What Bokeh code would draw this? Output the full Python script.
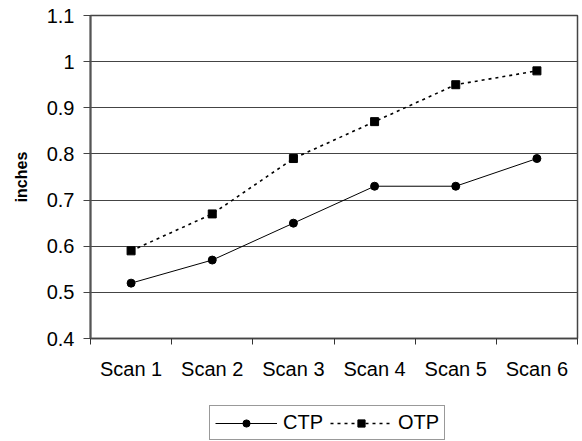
from bokeh.plotting import figure
from bokeh.layouts import column
from bokeh.models import (Range1d, FixedTicker, CustomJSTickFormatter, Legend, LegendItem)
from bokeh.embed import file_html
from bokeh.resources import INLINE

categories = ["Scan 1", "Scan 2", "Scan 3", "Scan 4", "Scan 5", "Scan 6"]
ctp = [0.52, 0.57, 0.65, 0.73, 0.73, 0.79]
otp = [0.59, 0.67, 0.79, 0.87, 0.95, 0.98]
y_ticks = [0.4, 0.5, 0.6, 0.7, 0.8, 0.9, 1.0, 1.1]

xs = [i + 0.5 for i in range(len(categories))]

FONT = "Liberation Sans"

p = figure(width=582, height=400, output_backend="svg", toolbar_location=None,
           x_range=Range1d(0, len(categories)), y_range=Range1d(0.4, 1.1),
           min_border_left=90, min_border_right=5, min_border_top=15,
           min_border_bottom=62)

p.background_fill_color = "white"
p.border_fill_color = "white"
p.outline_line_color = "#444444"
p.outline_line_width = 1.5

# x axis
p.xaxis.ticker = FixedTicker(ticks=xs, minor_ticks=list(range(len(categories) + 1)))
p.xaxis.major_label_overrides = {x: c for x, c in zip(xs, categories)}
p.xaxis.major_tick_out = 0
p.xaxis.major_tick_in = 0
p.xaxis.minor_tick_out = 6
p.xaxis.minor_tick_in = 0
p.xaxis.minor_tick_line_color = "#333333"
p.xaxis.axis_line_color = "#444444"
p.xaxis.axis_line_width = 1.5
p.xaxis.major_label_standoff = 13
p.xaxis.major_label_text_font = FONT
p.xaxis.major_label_text_font_size = "20px"
p.xaxis.major_label_text_color = "black"
p.xgrid.visible = False

# y axis
p.yaxis.ticker = FixedTicker(ticks=y_ticks, minor_ticks=[])
p.yaxis.formatter = CustomJSTickFormatter(code="return tick.toFixed(1).replace(/\\.0$/, '');")
p.yaxis.major_tick_out = 7
p.yaxis.major_tick_in = 0
p.yaxis.major_tick_line_color = "#444444"
p.yaxis.axis_line_color = "#555555"
p.yaxis.axis_line_width = 2
p.yaxis.major_label_standoff = 9
p.yaxis.major_label_text_font = FONT
p.yaxis.major_label_text_font_size = "20px"
p.yaxis.major_label_text_color = "black"
p.yaxis.axis_label = "inches"
p.yaxis.axis_label_text_font = FONT
p.yaxis.axis_label_text_font_style = "bold"
p.yaxis.axis_label_text_font_size = "16px"
p.yaxis.axis_label_text_color = "black"
p.yaxis.axis_label_standoff = 14
p.ygrid.grid_line_color = "#444444"
p.ygrid.grid_line_width = 1.2
p.ygrid.grid_line_alpha = 1.0

# series
ctp_style = dict(line_color="black", line_width=1)
otp_style = dict(line_color="black", line_width=1.6, line_dash="3 4")
p.line(xs, ctp, **ctp_style)
p.scatter(xs, ctp, marker="circle", size=8, fill_color="black", line_color="black")
p.line(xs, otp, **otp_style)
p.scatter(xs, otp, marker="square", size=8, fill_color="black", line_color="black")

# legend strip below the chart (hidden copies of the series supply the keys)
q = figure(width=582, height=41, output_backend="svg", toolbar_location=None,
           x_range=Range1d(0, 1), y_range=Range1d(0, 1),
           x_axis_location=None, y_axis_location=None,
           min_border_left=0, min_border_right=0, min_border_top=0, min_border_bottom=0)
q.grid.visible = False
q.outline_line_color = None
q.background_fill_color = "white"
q.border_fill_color = "white"
k1 = q.line(xs, ctp, visible=False, **ctp_style)
k1m = q.scatter(xs, ctp, marker="circle", size=8, fill_color="black", line_color="black", visible=False)
k2 = q.line(xs, otp, visible=False, **otp_style)
k2m = q.scatter(xs, otp, marker="square", size=8, fill_color="black", line_color="black", visible=False)

legend = Legend(items=[LegendItem(label="CTP", renderers=[k1, k1m]),
                       LegendItem(label="OTP", renderers=[k2, k2m])],
                orientation="horizontal", location=(119, 1),
                glyph_width=62, glyph_height=18, label_height=18,
                label_standoff=6, spacing=7,
                padding=5, margin=0,
                label_text_font=FONT, label_text_font_size="20px",
                label_text_color="black",
                border_line_color="#333333", border_line_width=1,
                background_fill_color="white", background_fill_alpha=1.0,
                inactive_fill_alpha=0.0)
q.add_layout(legend, "center")

open("out.html", "w").write(file_html(column(p, q, spacing=0), INLINE))
